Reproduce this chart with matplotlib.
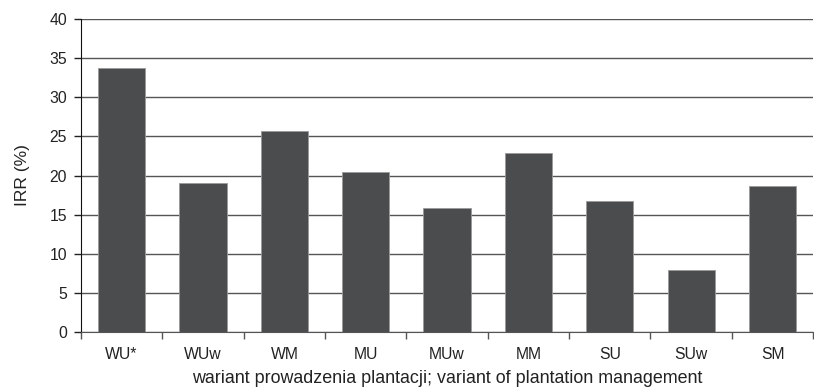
import matplotlib
matplotlib.use("Agg")
import matplotlib.pyplot as plt
import numpy as np

categories = ["WU*", "WUw", "WM", "MU", "MUw", "MM", "SU", "SUw", "SM"]
irr = [33.8, 19.0, 25.7, 20.4, 15.9, 22.9, 16.7, 7.9, 18.6]
yticks = [0, 5, 10, 15, 20, 25, 30, 35, 40]

plt.rcParams['font.family'] = ['Liberation Sans', 'DejaVu Sans']
fig = plt.figure(figsize=(8.14, 3.9), dpi=100)
ax = fig.add_axes([0.0995, 0.1495, 0.8995, 0.801])

x = np.arange(len(categories))
ax.bar(x, irr, width=0.58, color='#4b4c4e', edgecolor='#9a9a9a', linewidth=0.6, zorder=3)

ax.set_xlim(-0.5, len(categories) - 0.5)
ax.set_ylim(0, 40)
ax.set_yticks(yticks)
ax.set_yticklabels([str(v) for v in yticks], fontsize=11.3, color='#222222')
ax.yaxis.grid(True, color='#555555', linewidth=1.0, zorder=0)

ax.set_xticks(x)
ax.set_xticklabels(categories, fontsize=11.3, color='#222222')
ax.set_xticks(np.arange(-0.5, len(categories) + 0.5, 1), minor=True)
ax.tick_params(axis='x', which='major', length=0, pad=11)
ax.tick_params(axis='x', which='minor', length=5, width=1, color='#555555', direction='out')
ax.tick_params(axis='y', length=5, width=1, color='#222222', direction='out', pad=5)

for s in ['top', 'right']:
    ax.spines[s].set_visible(False)
ax.spines['left'].set_color('#111111')
ax.spines['bottom'].set_color('#555555')

ax.set_ylabel("IRR (%)", fontsize=12.5, color='#222222', labelpad=14)
ax.set_xlabel("wariant prowadzenia plantacji; variant of plantation management", fontsize=12.9, color='#222222', labelpad=6)

fig.savefig("out.png", dpi=100)
